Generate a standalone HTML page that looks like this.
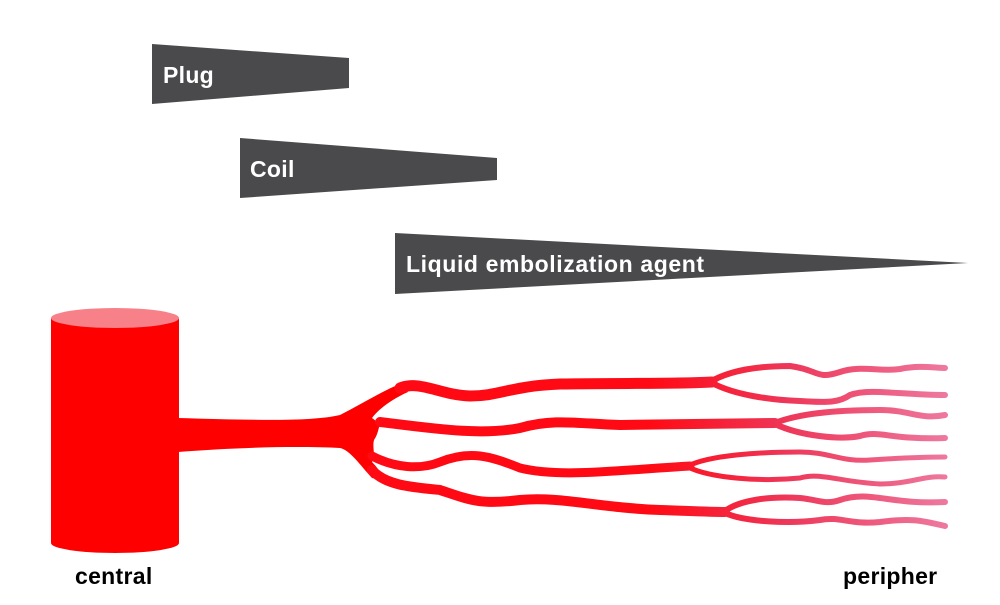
<!DOCTYPE html>
<html><head><style>
html,body{margin:0;padding:0;background:#fff;}
svg{display:block;}
text{font-family:"Liberation Sans",Arial,sans-serif;font-weight:bold;}
</style></head><body>
<svg width="1000" height="605" viewBox="0 0 1000 605" xmlns="http://www.w3.org/2000/svg">
<defs>
<linearGradient id="g" gradientUnits="userSpaceOnUse" x1="650" y1="0" x2="950" y2="0">
<stop offset="0" stop-color="#ff0a14"/>
<stop offset="0.45" stop-color="#ee3658"/>
<stop offset="1" stop-color="#ee7aa0"/>
</linearGradient>
</defs>
<polygon points="152,44 349,58 349,88 152,104" fill="#4a4a4c"/>
<polygon points="240,138 497,158 497,180 240,198" fill="#4a4a4c"/>
<polygon points="395,233 968,263 395,294" fill="#4a4a4c"/>
<text x="163" y="83" font-size="23" fill="#fff" letter-spacing="0.3">Plug</text>
<text x="250" y="177" font-size="23" fill="#fff" letter-spacing="0.3">Coil</text>
<text x="406" y="272" font-size="23" fill="#fff" letter-spacing="0.6">Liquid embolization agent</text>

<path d="M51,318 L51,543 A64,10 0 0 0 179,543 L179,318 Z" fill="#ff0000"/>
<ellipse cx="115" cy="318" rx="64" ry="10" fill="#f88088"/>
<path d="M178,418 C250,420 310,422 340,415 C360,405 380,392 400,384 L408,392 C390,400 378,410 372,418 L380,424 C378,430 378,434 374,440 C372,448 376,455 372,462 C385,475 380,480 372,478 C360,465 350,450 340,448 C300,446 240,447 178,452 Z" fill="#ff0000"/>

<g fill="none" stroke="url(#g)" stroke-linecap="round">
<path d="M400,388 C420,380 440,395 470,396 C500,396 510,386 560,384 C620,383 680,384 712,382" stroke-width="11"/>
<path d="M710,382 C730,370 760,366 790,366 C820,370 815,380 840,372 C860,365 880,372 900,369 C920,365 935,368 945,368" stroke-width="6"/>
<path d="M712,383 C735,395 770,400 800,401 C830,403 840,402 850,395 C870,388 900,395 945,395" stroke-width="6"/>
<path d="M380,422 C430,428 480,436 520,428 C555,418 580,424 620,425 C680,424 740,423 775,423" stroke-width="10"/>
<path d="M775,423 C800,413 840,410 880,410 C910,410 920,420 945,415" stroke-width="6"/>
<path d="M775,424 C800,436 840,440 860,436 C880,430 890,440 945,438" stroke-width="6"/>
<path d="M372,456 C395,468 420,470 440,462 C470,450 490,456 520,468 C560,478 620,470 690,466" stroke-width="9"/>
<path d="M688,466 C710,455 760,452 800,452 C830,452 840,462 870,460 C900,458 920,457 945,457" stroke-width="5"/>
<path d="M688,467 C710,478 760,482 800,478 C820,472 840,482 880,484 C910,484 925,475 945,477" stroke-width="5"/>
<path d="M372,470 C385,485 410,487 440,490 C470,500 480,505 520,500 C560,496 600,508 660,510 C690,511 710,512 725,512" stroke-width="10"/>
<path d="M725,511 C740,500 770,496 800,498 C820,500 825,505 840,500 C870,490 890,505 945,502" stroke-width="6"/>
<path d="M725,513 C745,522 790,524 820,520 C840,516 850,525 880,522 C910,518 920,520 945,526" stroke-width="6"/>
</g>

<text x="75" y="584" font-size="23" fill="#000" letter-spacing="0.3">central</text>
<text x="843" y="584" font-size="23" fill="#000" letter-spacing="0.3">peripher</text>
</svg>
</body></html>
